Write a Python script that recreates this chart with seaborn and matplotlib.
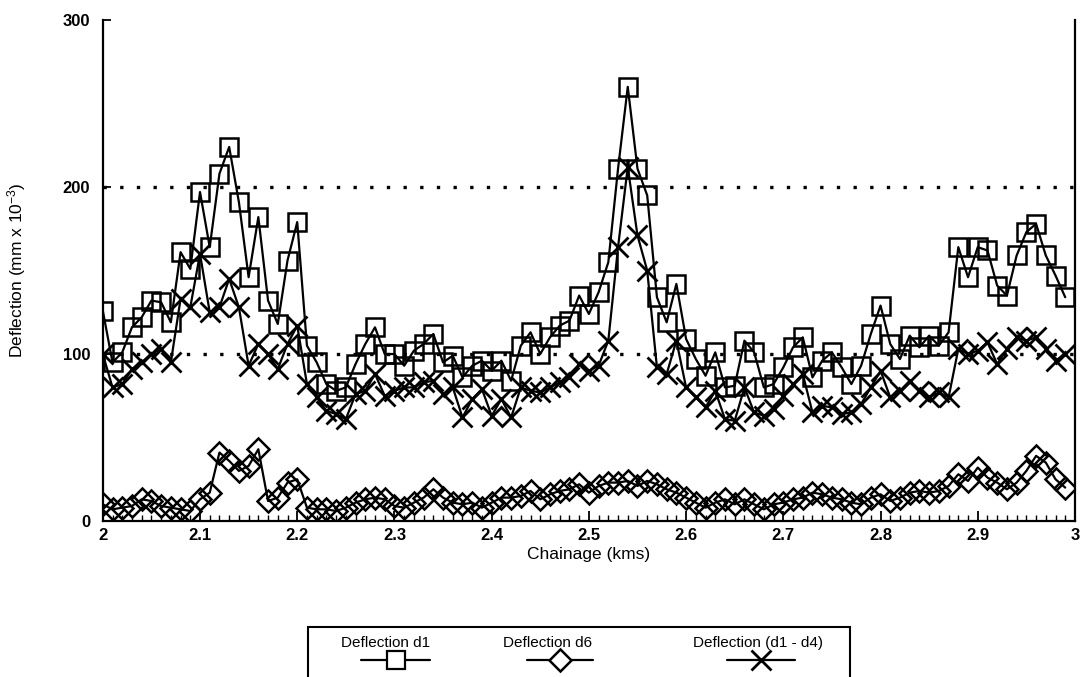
import pandas as pd
import seaborn as sns
import matplotlib.pyplot as plt
from matplotlib.lines import Line2D
from matplotlib.patches import Rectangle
from matplotlib.ticker import MultipleLocator

# chainage (kms), one reading every 10 m
chainage = [2.00, 2.01, 2.02, 2.03, 2.04, 2.05, 2.06, 2.07, 2.08, 2.09,
            2.10, 2.11, 2.12, 2.13, 2.14, 2.15, 2.16, 2.17, 2.18, 2.19,
            2.20, 2.21, 2.22, 2.23, 2.24, 2.25, 2.26, 2.27, 2.28, 2.29,
            2.30, 2.31, 2.32, 2.33, 2.34, 2.35, 2.36, 2.37, 2.38, 2.39,
            2.40, 2.41, 2.42, 2.43, 2.44, 2.45, 2.46, 2.47, 2.48, 2.49,
            2.50, 2.51, 2.52, 2.53, 2.54, 2.55, 2.56, 2.57, 2.58, 2.59,
            2.60, 2.61, 2.62, 2.63, 2.64, 2.65, 2.66, 2.67, 2.68, 2.69,
            2.70, 2.71, 2.72, 2.73, 2.74, 2.75, 2.76, 2.77, 2.78, 2.79,
            2.80, 2.81, 2.82, 2.83, 2.84, 2.85, 2.86, 2.87, 2.88, 2.89,
            2.90, 2.91, 2.92, 2.93, 2.94, 2.95, 2.96, 2.97, 2.98, 2.99]

# deflection d1
d1 = [126, 95, 101, 116, 122, 132, 131, 119, 161, 151,
      197, 164, 208, 224, 191, 146, 182, 132, 118, 156,
      179, 105, 95, 82, 78, 80, 94, 106, 116, 100,
      100, 93, 102, 106, 112, 95, 99, 86, 93, 96,
      90, 96, 84, 105, 113, 100, 110, 117, 120, 135,
      124, 137, 155, 211, 260, 211, 195, 134, 119, 142,
      109, 97, 87, 101, 80, 81, 108, 101, 80, 82,
      92, 104, 110, 86, 96, 101, 92, 82, 93, 112,
      129, 106, 97, 111, 104, 111, 105, 113, 164, 146,
      164, 162, 141, 135, 159, 173, 178, 159, 147, 134]

# deflection d6
d6 = [10, 7, 8, 9, 13, 12, 9, 8, 7, 6,
      13, 17, 41, 36, 30, 33, 43, 12, 14, 23,
      25, 8, 7, 7, 6, 8, 11, 13, 14, 13,
      9, 8, 11, 14, 19, 14, 11, 10, 11, 8,
      11, 14, 14, 15, 18, 13, 16, 18, 19, 22,
      17, 21, 23, 23, 24, 21, 24, 22, 19, 17,
      14, 11, 8, 11, 13, 10, 13, 10, 7, 10,
      11, 13, 14, 17, 16, 14, 13, 11, 10, 14,
      16, 12, 14, 17, 18, 17, 18, 21, 28, 24,
      32, 26, 23, 19, 23, 30, 39, 35, 25, 20]

# deflection d1 - d4
d1_d4 = [100, 80, 82, 91, 95, 100, 103, 95, 133, 128,
         160, 125, 128, 145, 128, 93, 106, 100, 91, 106,
         117, 82, 74, 66, 64, 61, 76, 78, 88, 75,
         78, 80, 80, 83, 84, 76, 80, 62, 73, 79,
         63, 73, 62, 80, 78, 77, 80, 83, 86, 94,
         90, 93, 108, 164, 212, 171, 150, 92, 88, 108,
         80, 74, 68, 78, 61, 60, 80, 65, 63, 67,
         75, 82, 88, 65, 69, 68, 64, 65, 70, 80,
         90, 74, 78, 84, 78, 74, 77, 74, 103, 100,
         102, 107, 94, 103, 110, 108, 110, 103, 96, 100]

xticks = [2.0, 2.1, 2.2, 2.3, 2.4, 2.5, 2.6, 2.7, 2.8, 2.9, 3.0]
xtick_labels = ['2', '2.1', '2.2', '2.3', '2.4', '2.5', '2.6', '2.7', '2.8', '2.9', '3']
yticks = [0, 100, 200, 300]
series_names = ['Deflection d1', 'Deflection d6', 'Deflection (d1 - d4)']

df = pd.DataFrame({'chainage': chainage, 'd1': d1, 'd6': d6, 'd1_d4': d1_d4})

sns.set_style("ticks")
plt.rcParams['font.family'] = ['Liberation Sans', 'DejaVu Sans']
plt.rcParams['mathtext.default'] = 'regular'
for key in ['text.color', 'axes.labelcolor', 'xtick.color', 'ytick.color', 'axes.edgecolor']:
    plt.rcParams[key] = 'black'

fig = plt.figure(figsize=(10.82, 6.77), dpi=100)
ax = fig.add_axes([0.095, 0.2304, 0.8985, 0.740])

common = dict(color='black', linewidth=1.6, markerfacecolor='none',
              markeredgecolor='black', estimator=None, errorbar=None, ax=ax)
sns.lineplot(data=df, x='chainage', y='d6', marker='D', markersize=11,
             markeredgewidth=1.8, **common)
sns.lineplot(data=df, x='chainage', y='d1_d4', marker='x', markersize=15,
             markeredgewidth=2.0, **common)
sns.lineplot(data=df, x='chainage', y='d1', marker='s', markersize=13,
             markeredgewidth=1.8, **common)

ax.set_xlim(2, 3)
ax.set_ylim(0, 300)
ax.set_xticks(xticks, xtick_labels, fontweight='bold', fontsize=12)
ax.set_yticks(yticks, [str(v) for v in yticks], fontweight='bold', fontsize=12)
ax.xaxis.set_minor_locator(MultipleLocator(0.01))
ax.tick_params(axis='x', which='major', direction='in', length=7, width=1.3, pad=5)
ax.tick_params(axis='x', which='minor', direction='in', length=4, width=1.0)
ax.tick_params(axis='y', which='major', direction='in', length=6, width=1.3, pad=9)

# dotted reference lines at 100 and 200 only
ax.yaxis.grid(True, color='black', linestyle=(0, (1, 4)), linewidth=2.4)
gl = ax.get_ygridlines()
gl[0].set_visible(False)
gl[-1].set_visible(False)

ax.spines['top'].set_visible(False)
for s in ['left', 'bottom', 'right']:
    ax.spines[s].set_linewidth(1.6)

ax.set_xlabel('Chainage (kms)', fontsize=12.5)
ax.set_ylabel(r'Deflection (mm x 10$^{\mathregular{-3}}$)', fontsize=12.5)
ax.xaxis.set_label_coords(0.5, -0.052)
ax.yaxis.set_label_coords(-0.077, 0.5)

# legend box under the chart: labels above the sample lines
W, H = 1082.0, 677.0
box = Rectangle((308 / W, -0.1), (850 - 308) / W, 0.1 + (1 - 627 / H),
                transform=fig.transFigure, fill=False, linewidth=1.5,
                edgecolor='black', clip_on=False)
fig.add_artist(box)

label_x = [386, 548, 758]
line_spans = [(361, 430), (527, 593), (727, 795)]
marker_x = [396, 560, 761]
markers = [('s', 13, 1.6), ('D', 11, 1.8), ('x', 15, 2.0)]
for name, lx, (l0, l1), mx, (m, ms, mw) in zip(series_names, label_x, line_spans, marker_x, markers):
    fig.text(lx / W, 1 - 643 / H, name, ha='center', va='center', fontsize=11)
    fig.add_artist(Line2D([l0 / W, l1 / W], [1 - 660 / H] * 2, transform=fig.transFigure,
                          color='black', linewidth=1.6))
    fig.add_artist(Line2D([mx / W], [1 - 660 / H], transform=fig.transFigure,
                          marker=m, markersize=ms, markeredgewidth=mw,
                          markerfacecolor='white' if m != 'x' else 'none',
                          markeredgecolor='black', linestyle='none'))

fig.savefig('out.png', dpi=100, facecolor='white')
